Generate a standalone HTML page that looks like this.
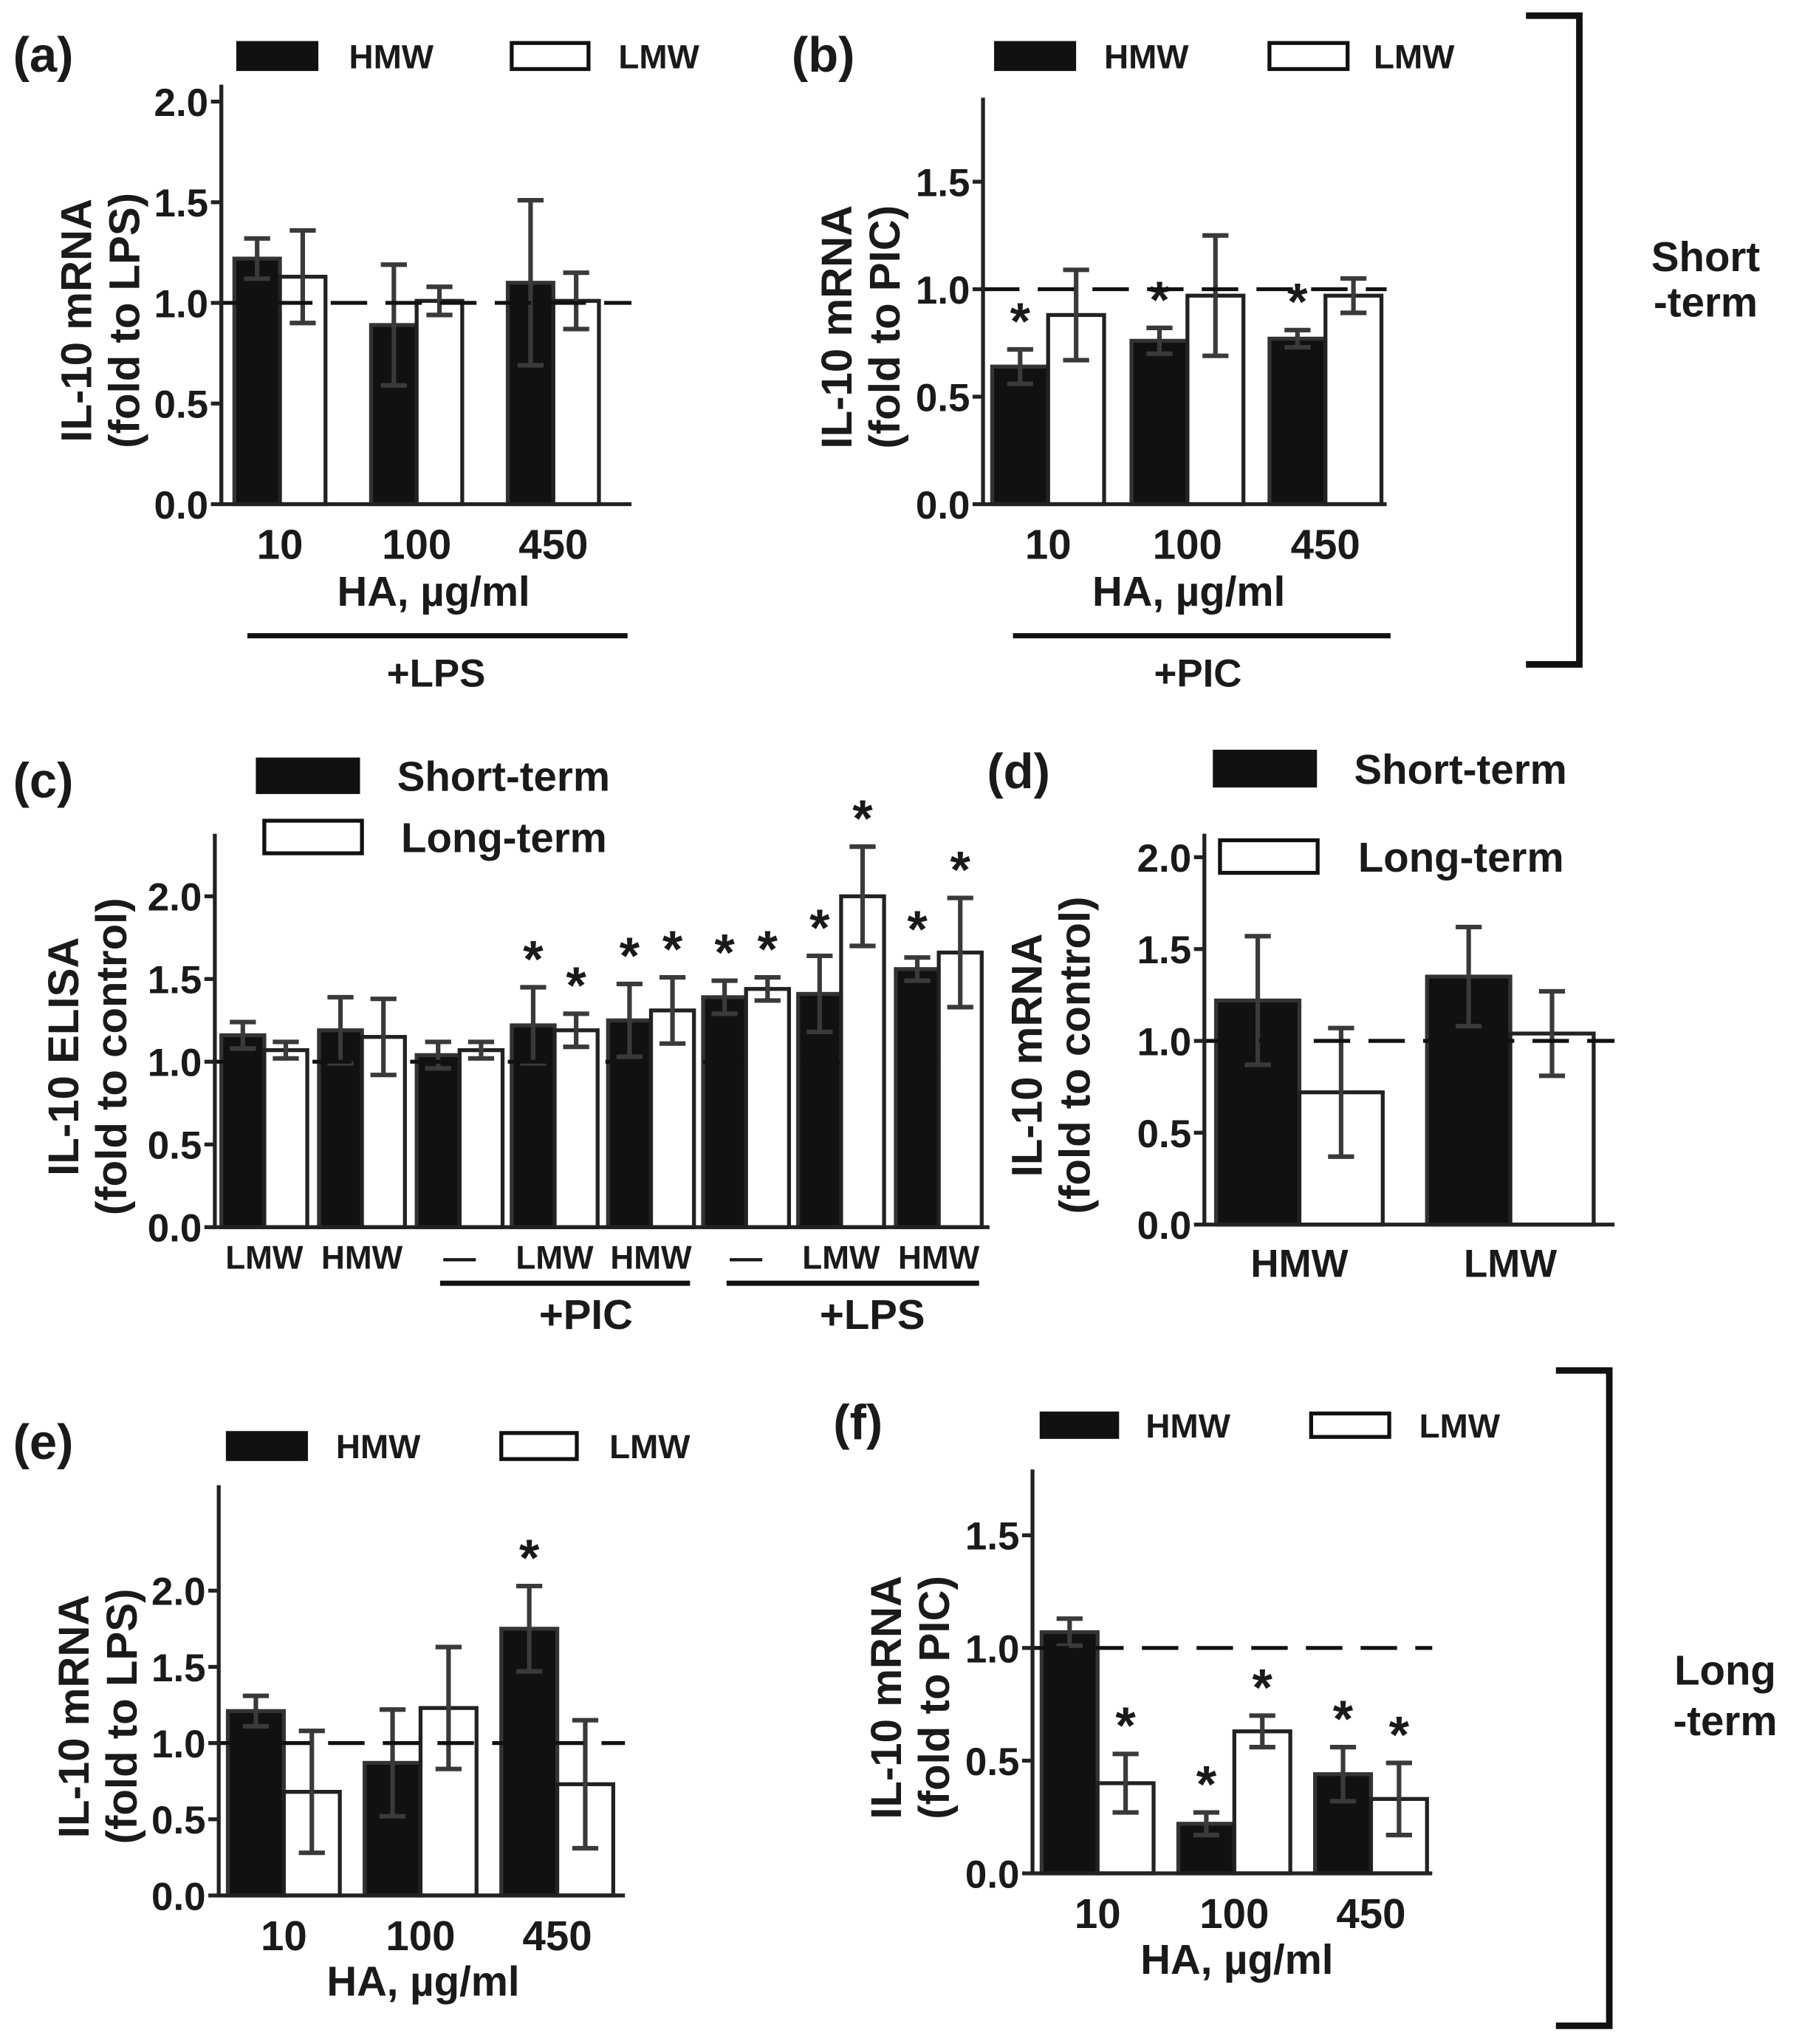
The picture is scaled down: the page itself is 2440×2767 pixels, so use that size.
<!DOCTYPE html>
<html><head><meta charset="utf-8"><style>
html,body{margin:0;padding:0;background:#fff}
svg{display:block}
text{font-family:"Liberation Sans",Arial,sans-serif;font-weight:bold;fill:#1a1a1a}
</style></head><body>
<svg id="fig" xmlns="http://www.w3.org/2000/svg" width="2440" height="2767" viewBox="0 0 1384 1569" preserveAspectRatio="none"></svg>
<script>
// ---- data ----
const doseCats = ["10","100","450"];
const aHMW = [1.22,0.89,1.10], aHMWerr=[0.10,0.30,0.41];
const aLMW = [1.13,1.01,1.01], aLMWerr=[0.23,0.07,0.14];
const bHMW = [0.64,0.76,0.77], bHMWerr=[0.08,0.06,0.04];
const bLMW = [0.88,0.97,0.97], bLMWerr=[0.21,0.28,0.08];
const cCats = ["LMW","HMW","—","LMW","HMW","—","LMW","HMW"];
const cShort = [1.16,1.19,1.04,1.22,1.25,1.39,1.41,1.56], cShortErr=[0.08,0.20,0.08,0.23,0.22,0.10,0.23,0.07];
const cLong = [1.07,1.15,1.07,1.19,1.31,1.44,2.00,1.66], cLongErr=[0.05,0.23,0.05,0.10,0.20,0.07,0.30,0.33];
const cStarS = [0,0,0,1,1,1,1,1], cStarL=[0,0,0,1,1,1,1,1];
const dCats = ["HMW","LMW"];
const dShort = [1.22,1.35], dShortErr=[0.35,0.27];
const dLong = [0.72,1.04], dLongErr=[0.35,0.23];
const eHMW = [1.21,0.87,1.75], eHMWerr=[0.10,0.35,0.28];
const eLMW = [0.68,1.23,0.73], eLMWerr=[0.40,0.40,0.42];
const fHMW = [1.07,0.22,0.44], fHMWerr=[0.06,0.05,0.12];
const fLMW = [0.40,0.63,0.33], fLMWerr=[0.13,0.07,0.16];
const yTicks2 = ["0.0","0.5","1.0","1.5","2.0"];
const yTicks15 = ["0.0","0.5","1.0","1.5"];

const NS="http://www.w3.org/2000/svg";
const svg=document.getElementById('fig');
function el(tag,attrs,parent,txt){const e=document.createElementNS(NS,tag);for(const k in attrs)e.setAttribute(k,attrs[k]);if(txt!==undefined)e.textContent=txt;(parent||svg).appendChild(e);return e;}
function txt(x,y,s,size,name,anchor,parent){const t=el('text',{x:x,y:y,'font-size':size,'text-anchor':anchor||'middle'},parent,s);

return t;}

function panel(o){
  const g=el('g',{});
  
  
  const y=v=>o.y0-v*o.unit;
  o.series.forEach((s,si)=>{
    s.vals.forEach((v,i)=>{
      const x=o.groupX[i]+si*o.bw;
      const r=el('rect',{x:x,y:y(v),width:o.bw,height:o.y0-y(v),fill:si==0?'#111':'#fff',stroke:si==0?'#333':'#222','stroke-width':3},g);
      
      
      const cx=x+o.bw/2, e=s.err[i];
      const eb=el('path',{d:`M${cx},${y(v+e)}V${y(v-e)}M${cx-10},${y(v+e)}h20M${cx-10},${y(v-e)}h20`,stroke:'#3a3a3a','stroke-width':3.5,fill:'none'},g);
      
      
      if(s.stars&&s.stars[i]){txt(cx,y(v+e)-8,'*',40,o.name+'-star',undefined,g);}
    });
  });
  const dl=el('line',{x1:o.ax,x2:o.xEnd,y1:y(1),y2:y(1),stroke:'#111','stroke-width':3,'stroke-dasharray':o.dash||'28,14'},g);
  
  
  const ax=el('path',{d:`M${o.ax},${o.yTop}V${o.y0}H${o.xEnd}`,stroke:'#222','stroke-width':3,fill:'none'},g);
  
  
  o.ticks.forEach(t=>{const v=parseFloat(t);
    el('line',{x1:o.ax-8,x2:o.ax,y1:y(v),y2:y(v),stroke:'#222','stroke-width':3},g);
    txt(o.ax-10,y(v)+11,t,30,o.name+'-y-tick','end',g);});
  const yt=el('text',{transform:`translate(${o.titleX-4},${(o.y0+o.yTop)/2+20}) rotate(-90)`,'font-size':33,'text-anchor':'middle'},g);
  
  
  el('tspan',{x:0,dy:0},yt,o.title[0]);
  el('tspan',{x:0,dy:37},yt,o.title[1]);
  o.cats.forEach((c,i)=>txt(o.groupX[i]+o.bw*o.series.length/2,o.y0+o.catDy,c,o.catSize||30,o.name+'-x-label','middle',g));
  return g;
}
function legend(name,items){items.forEach(it=>{
  const r=el('rect',{x:it.x,y:it.y,width:it.w,height:it.h,fill:it.black?'#111':'#fff',stroke:'#111','stroke-width':3});
  
  
  txt(it.tx,it.y+it.h/2+it.fs*0.36,it.label,it.fs,name+'-label','start');});}
function hline(x1,x2,yy,name){const l=el('line',{x1:x1,x2:x2,y1:yy,y2:yy,stroke:'#111','stroke-width':4});
  
  }

// (a)
txt(10,55,'(a)',38,'panel-a-label','start');
legend('legend-a',[{x:183,y:33,w:60,h:20,black:1,tx:268,label:'HMW',fs:26},{x:393,y:33,w:59,h:20,tx:475,label:'LMW',fs:26}]);
panel({name:'panel-a',ax:170,y0:387,unit:154.5,yTop:65,xEnd:485,bw:35,groupX:[180,285,390],ticks:yTicks2,titleX:74,title:['IL-10 mRNA','(fold to LPS)'],cats:doseCats,catDy:42,catSize:32,
 series:[{key:'hmw',vals:aHMW,err:aHMWerr},{key:'lmw',vals:aLMW,err:aLMWerr}]});
txt(333,465,'HA, µg/ml',32,'panel-a-x-title');hline(190,482,488,'panel-a-lps-line');txt(335,527,'+LPS',30,'panel-a-lps-label');

// (b)
txt(608,55,'(b)',38,'panel-b-label','start');
legend('legend-b',[{x:765,y:33,w:60,h:20,black:1,tx:848,label:'HMW',fs:26},{x:975,y:33,w:60,h:20,tx:1055,label:'LMW',fs:26}]);
panel({name:'panel-b',ax:755,y0:387,unit:165,yTop:75,xEnd:1065,bw:43,groupX:[762,869,975],ticks:yTicks15,titleX:658,title:['IL-10 mRNA','(fold to PIC)'],cats:doseCats,catDy:42,catSize:32,
 series:[{key:'hmw',vals:bHMW,err:bHMWerr,stars:[1,1,1]},{key:'lmw',vals:bLMW,err:bLMWerr}]});
txt(913,465,'HA, µg/ml',32,'panel-b-x-title');hline(778,1068,488,'panel-b-pic-line');txt(920,527,'+PIC',30,'panel-b-pic-label');
el('path',{d:'M1172,12H1213V510H1172',stroke:'#111','stroke-width':5,fill:'none',});
txt(1310,208,'Short',32,'short-term-label');txt(1310,243,'-term',32,'short-term-label');

// (c)
txt(10,612,'(c)',38,'panel-c-label','start');
legend('legend-c',[{x:198,y:583,w:77,h:25,black:1,tx:305,label:'Short-term',fs:32},{x:203,y:630,w:75,h:25,tx:308,label:'Long-term',fs:32}]);
panel({name:'panel-c',ax:165,y0:942,unit:127,yTop:640,xEnd:760,bw:33,groupX:[170,245,320,393,467,540,613,688],ticks:yTicks2,titleX:64,title:['IL-10 ELISA','(fold to control)'],cats:cCats,catDy:32,catSize:25,dash:'30,45',
 series:[{key:'short',vals:cShort,err:cShortErr,stars:cStarS},{key:'long',vals:cLong,err:cLongErr,stars:cStarL}]});
hline(338,530,985,'panel-c-pic-line');hline(558,752,985,'panel-c-lps-line');
txt(450,1020,'+PIC',32,'panel-c-pic-label');txt(670,1020,'+LPS',32,'panel-c-lps-label');

// (d)
txt(758,605,'(d)',38,'panel-d-label','start');
legend('legend-d',[{x:933,y:577,w:77,h:26,black:1,tx:1040,label:'Short-term',fs:32},{x:937,y:645,w:75,h:25,tx:1043,label:'Long-term',fs:32}]);
panel({name:'panel-d',ax:925,y0:940,unit:141,yTop:640,xEnd:1240,bw:64,groupX:[934,1096],ticks:yTicks2,titleX:804,title:['IL-10 mRNA','(fold to control)'],cats:dCats,catDy:40,catSize:30,
 series:[{key:'short',vals:dShort,err:dShortErr},{key:'long',vals:dLong,err:dLongErr}]});

// (e)
txt(10,1120,'(e)',38,'panel-e-label','start');
legend('legend-e',[{x:175,y:1100,w:60,h:20,black:1,tx:258,label:'HMW',fs:26},{x:385,y:1100,w:58,h:20,tx:468,label:'LMW',fs:26}]);
panel({name:'panel-e',ax:168,y0:1455,unit:117,yTop:1140,xEnd:480,bw:43,groupX:[175,280,385],ticks:yTicks2,titleX:72,title:['IL-10 mRNA','(fold to LPS)'],cats:doseCats,catDy:42,catSize:32,
 series:[{key:'hmw',vals:eHMW,err:eHMWerr,stars:[0,0,1]},{key:'lmw',vals:eLMW,err:eLMWerr}]});
txt(325,1532,'HA, µg/ml',32,'panel-e-x-title');

// (f)
txt(640,1105,'(f)',38,'panel-f-label','start');
legend('legend-f',[{x:800,y:1085,w:58,h:18,black:1,tx:880,label:'HMW',fs:26},{x:1007,y:1085,w:60,h:18,tx:1090,label:'LMW',fs:26}]);
panel({name:'panel-f',ax:793,y0:1438,unit:173,yTop:1128,xEnd:1100,bw:43,groupX:[800,905,1010],ticks:yTicks15,titleX:696,title:['IL-10 mRNA','(fold to PIC)'],cats:doseCats,catDy:42,catSize:32,
 series:[{key:'hmw',vals:fHMW,err:fHMWerr,stars:[0,1,1]},{key:'lmw',vals:fLMW,err:fLMWerr,stars:[1,1,1]}]});
txt(950,1515,'HA, µg/ml',32,'panel-f-x-title');
el('path',{d:'M1195,1052H1236V1555H1195',stroke:'#111','stroke-width':5,fill:'none',});
txt(1325,1293,'Long',32,'long-term-label');txt(1325,1332,'-term',32,'long-term-label');
</script>
</body></html>
